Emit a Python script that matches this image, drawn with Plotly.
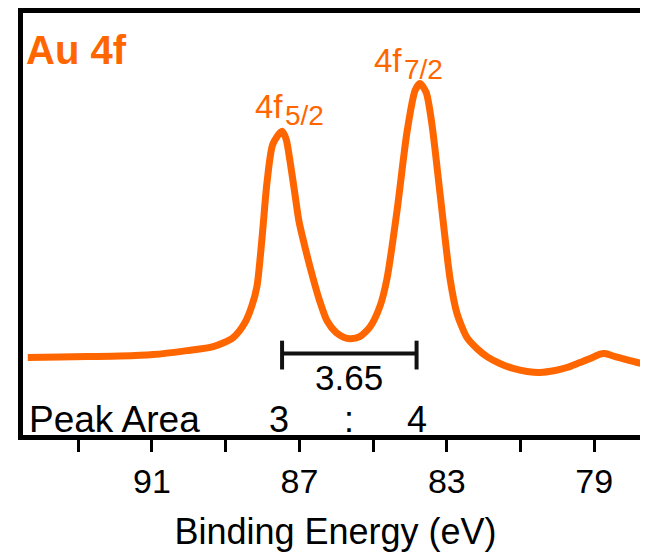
import plotly.graph_objects as go

# ---- data ----
binding_energy = [94.37, 93.50, 92.76, 91.87, 90.97, 90.05, 89.34, 88.80, 88.48, 88.29,
                  88.15, 88.01, 87.88, 87.72, 87.47, 87.36, 87.255, 87.13, 87.01, 86.82,
                  86.63, 86.45, 86.25, 86.00, 85.80, 85.63, 85.36, 85.08, 84.81, 84.62,
                  84.35, 84.08, 83.86, 83.73, 83.56, 83.40, 83.18, 82.91, 82.72, 82.45,
                  82.18, 81.91, 81.56, 81.20, 80.82, 80.47, 80.06, 79.74, 79.39, 79.11,
                  78.84, 78.71, 78.43, 78.03, 77.62, 77.35]
intensity = [78, 78.5, 79, 79.5, 81, 85, 89, 98, 113, 130,
             150, 200, 254, 293, 306, 298, 276, 245, 215, 185,
             158, 135, 115, 103, 98.5, 97, 99, 109, 130, 158,
             226, 305, 347, 354, 345, 312, 242, 157, 122, 98,
             87, 79, 72, 67, 64, 63, 65, 68, 73, 77,
             81.5, 82, 79, 75, 71, 69]

tick_vals = [93, 91, 89, 87, 85, 83, 81, 79]
tick_text = ["", "91", "", "87", "", "83", "", "79"]

peak_5_2 = 87.47
peak_7_2 = 83.82
splitting = "3.65"
area_ratio = ["3", ":", "4"]

orange = "#FF6600"
font_family = "Liberation Sans, Arial, sans-serif"

fig = go.Figure()
fig.add_trace(go.Scatter(x=binding_energy, y=intensity, mode="lines",
                         line=dict(color=orange, width=7, shape="spline", smoothing=0.7),
                         hoverinfo="skip", showlegend=False))

# bracket for spin-orbit splitting
by, bcap_lo, bcap_hi = 82, 66, 95
fig.add_trace(go.Scatter(
    x=[peak_5_2, peak_5_2, None, peak_5_2, peak_7_2, None, peak_7_2, peak_7_2],
    y=[bcap_lo, bcap_hi, None, by, by, None, bcap_lo, bcap_hi],
    mode="lines", line=dict(color="#111111", width=4), hoverinfo="skip", showlegend=False))

ann = []
def txt(x, y, s, size, color="black", bold=False, xanchor="center"):
    ann.append(dict(x=x, y=y, xref="x", yref="y", text=("<b>%s</b>" % s) if bold else s,
                    showarrow=False, xanchor=xanchor, yanchor="middle",
                    font=dict(family=font_family, size=size, color=color)))

txt(94.47, 388, "Au 4f", 40, orange, bold=True, xanchor="left")
txt(87.825, 331, "4f", 33, orange)
txt(86.85, 322, "5/2", 28, orange)
txt(84.60, 377, "4f", 33, orange)
txt(83.62, 368, "7/2", 28, orange)
txt((peak_5_2 + peak_7_2) / 2, 58, splitting, 35)
txt(94.40, 16, "Peak Area", 37, xanchor="left")
txt(87.55, 16, area_ratio[0], 36)
txt(85.65, 16, area_ratio[1], 36)
txt(83.81, 16, area_ratio[2], 36)

# page has an 8px body margin, so the figure is 8px smaller and shifted
fig.update_layout(
    width=640, height=551,
    margin=dict(l=15, r=0, t=2, b=124),
    paper_bgcolor="white", plot_bgcolor="white",
    annotations=ann,
    xaxis=dict(range=[94.50, 77.54], showline=True, linecolor="black", linewidth=5,
               mirror=True, ticks="outside", ticklen=12, tickwidth=3, tickcolor="black",
               tickvals=tick_vals, ticktext=tick_text, showgrid=False, zeroline=False,
               tickfont=dict(family=font_family, size=34, color="black"),
               title=dict(text="Binding Energy (eV)", standoff=22,
                          font=dict(family=font_family, size=36, color="black"))),
    yaxis=dict(range=[0, 425], showline=True, linecolor="black", linewidth=5,
               showticklabels=False, ticks="", showgrid=False, zeroline=False),
)

fig.write_html("out.html")
